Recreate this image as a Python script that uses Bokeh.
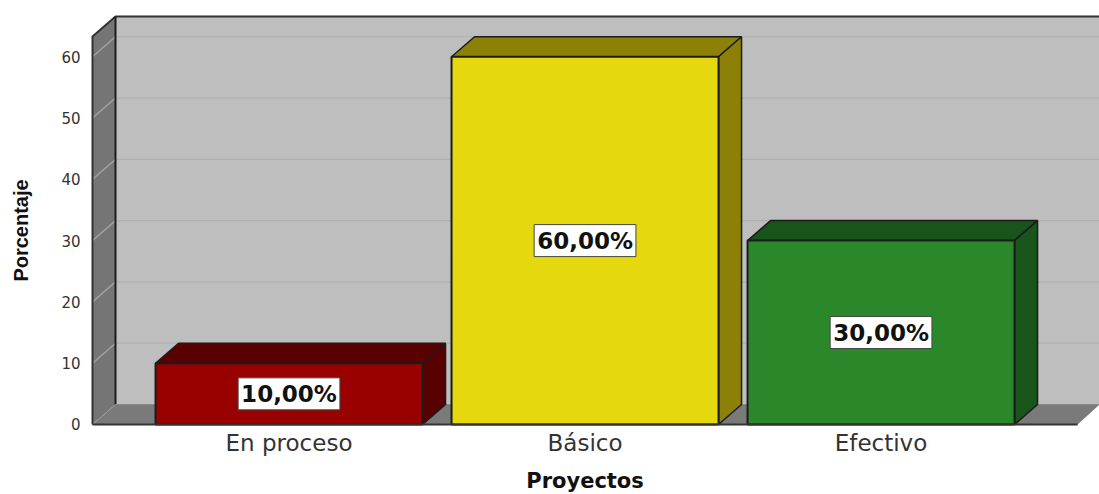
from math import pi

from bokeh.core.properties import value
from bokeh.embed import file_html
from bokeh.models import ColumnDataSource, FixedTicker, Label, LinearAxis, Range1d
from bokeh.plotting import figure
from bokeh.resources import INLINE

categories = ["En proceso", "Básico", "Efectivo"]
percentages = [10, 60, 30]
percent_labels = ["10,00%", "60,00%", "30,00%"]
y_ticks = [0, 10, 20, 30, 40, 50, 60]

front_colors = ["#990000", "#E6D80E", "#2A872A"]
depth_colors = ["#590000", "#8C8008", "#19541A"]

# Oblique projection of the 3D box, in axis units
DEPTH_X = 0.0777
DEPTH_Y = 3.26
BAR_WIDTH = 0.902
X_LEFT, X_RIGHT = -0.6639, 2.738
FLOOR_RIGHT = 2.664
Y_TOP = 63.3
EDGE = "#1c1c1c"

# The frame fills the canvas: both ranges extend past the box to leave room
# for the tick labels and the axis titles, and the axes sit at fixed locations.
p = figure(
    width=1099, height=494, output_backend="svg", toolbar_location=None,
    x_range=Range1d(-0.9747, X_RIGHT), y_range=Range1d(-11.42, 69.17),
    x_axis_type=None, y_axis_type=None,
    min_border_left=0, min_border_right=0, min_border_top=0, min_border_bottom=0,
    outline_line_color=None, background_fill_color="white",
)
p.grid.visible = False

# Back wall, side wall and floor of the box
back_left = X_LEFT + DEPTH_X
p.patch([back_left, X_RIGHT, X_RIGHT, back_left],
        [DEPTH_Y, DEPTH_Y, Y_TOP + DEPTH_Y, Y_TOP + DEPTH_Y],
        fill_color="#BEBEBE", line_color=None)
p.patch([X_LEFT, back_left, back_left, X_LEFT],
        [0, DEPTH_Y, Y_TOP + DEPTH_Y, Y_TOP],
        fill_color="#757575", line_color=None)
p.patch([X_LEFT, back_left, X_RIGHT, FLOOR_RIGHT],
        [0, DEPTH_Y, DEPTH_Y, 0],
        fill_color="#7A7A7A", line_color=None)

# Gridlines run along the back wall and fold down the side wall
grid_ticks = y_ticks[1:]
p.multi_line([[back_left, X_RIGHT] for _ in grid_ticks],
             [[t + DEPTH_Y, t + DEPTH_Y] for t in grid_ticks],
             line_color="#B0B0B0", line_width=1.2)
p.multi_line([[X_LEFT, back_left] for _ in grid_ticks],
             [[t, t + DEPTH_Y] for t in grid_ticks],
             line_color="#A0A0A0", line_width=1.5)

# Box edges
p.line([X_LEFT, X_LEFT, back_left, X_RIGHT],
       [0, Y_TOP, Y_TOP + DEPTH_Y, Y_TOP + DEPTH_Y], line_color="#333333", line_width=2)
p.line([back_left, back_left], [DEPTH_Y, Y_TOP + DEPTH_Y], line_color=EDGE, line_width=2)
p.line([X_LEFT, back_left], [0, DEPTH_Y], line_color="#999999", line_width=1)
p.line([back_left, X_RIGHT], [DEPTH_Y, DEPTH_Y], line_color="#8A8A8A", line_width=1)

# Bars: top and side faces first, then the front
positions = list(range(len(categories)))
half = BAR_WIDTH / 2
top_xs = [[x - half, x - half + DEPTH_X, x + half + DEPTH_X, x + half] for x in positions]
top_ys = [[v, v + DEPTH_Y, v + DEPTH_Y, v] for v in percentages]
side_xs = [[x + half, x + half + DEPTH_X, x + half + DEPTH_X, x + half] for x in positions]
side_ys = [[0, DEPTH_Y, v + DEPTH_Y, v] for v in percentages]
p.patches(top_xs, top_ys, fill_color=depth_colors, line_color=EDGE, line_width=1.5)
p.patches(side_xs, side_ys, fill_color=depth_colors, line_color=EDGE, line_width=1.5)
p.vbar(x=positions, top=percentages, bottom=0, width=BAR_WIDTH,
       fill_color=front_colors, line_color=EDGE, line_width=2)

# Baseline of the floor
p.line([X_LEFT, FLOOR_RIGHT], [0, 0], line_color="#333333", line_width=2)

# Value labels in white boxes at mid-height of each bar
labels = ColumnDataSource(dict(
    x=positions,
    y=[v / 2 for v in percentages],
    text=percent_labels,
))
p.text(x="x", y="y", text="text", source=labels,
       text_font=value("DejaVu Sans"), text_font_style="bold", text_font_size="23px",
       text_color="#111111", text_align="center", text_baseline="middle",
       background_fill_color="white", border_line_color="#444444", border_line_width=1,
       padding=3)

# Axes carry only their tick labels; the box edges stand in for axis lines.
x_axis = LinearAxis(
    fixed_location=0,
    ticker=FixedTicker(ticks=positions),
    major_label_overrides={i: c for i, c in enumerate(categories)},
    axis_line_color=None, major_tick_line_color=None, minor_tick_line_color=None,
    major_label_text_font="DejaVu Sans", major_label_text_font_size="23px",
    major_label_text_color="#333333", major_label_standoff=0,
)
p.add_layout(x_axis, "below")

y_axis = LinearAxis(
    fixed_location=X_LEFT,
    ticker=FixedTicker(ticks=y_ticks),
    axis_line_color=None, major_tick_line_color=None, minor_tick_line_color=None,
    major_label_text_font="DejaVu Sans", major_label_text_font_size="15px",
    major_label_text_color="#333333", major_label_standoff=6,
)
p.add_layout(y_axis, "left")

# Axis titles, centred on the floor and on the side wall
p.add_layout(Label(
    x=1, y=-9.15, text="Proyectos", text_align="center", text_baseline="middle",
    text_font="DejaVu Sans", text_font_style="bold", text_font_size="21px", text_color="#111111",
))
p.add_layout(Label(
    x=-0.905, y=31.65, text="Porcentaje", angle=pi / 2, text_align="center", text_baseline="middle",
    text_font="Liberation Sans", text_font_style="bold", text_font_size="20px", text_color="#111111",
))

open("out.html", "w").write(file_html(p, INLINE))
